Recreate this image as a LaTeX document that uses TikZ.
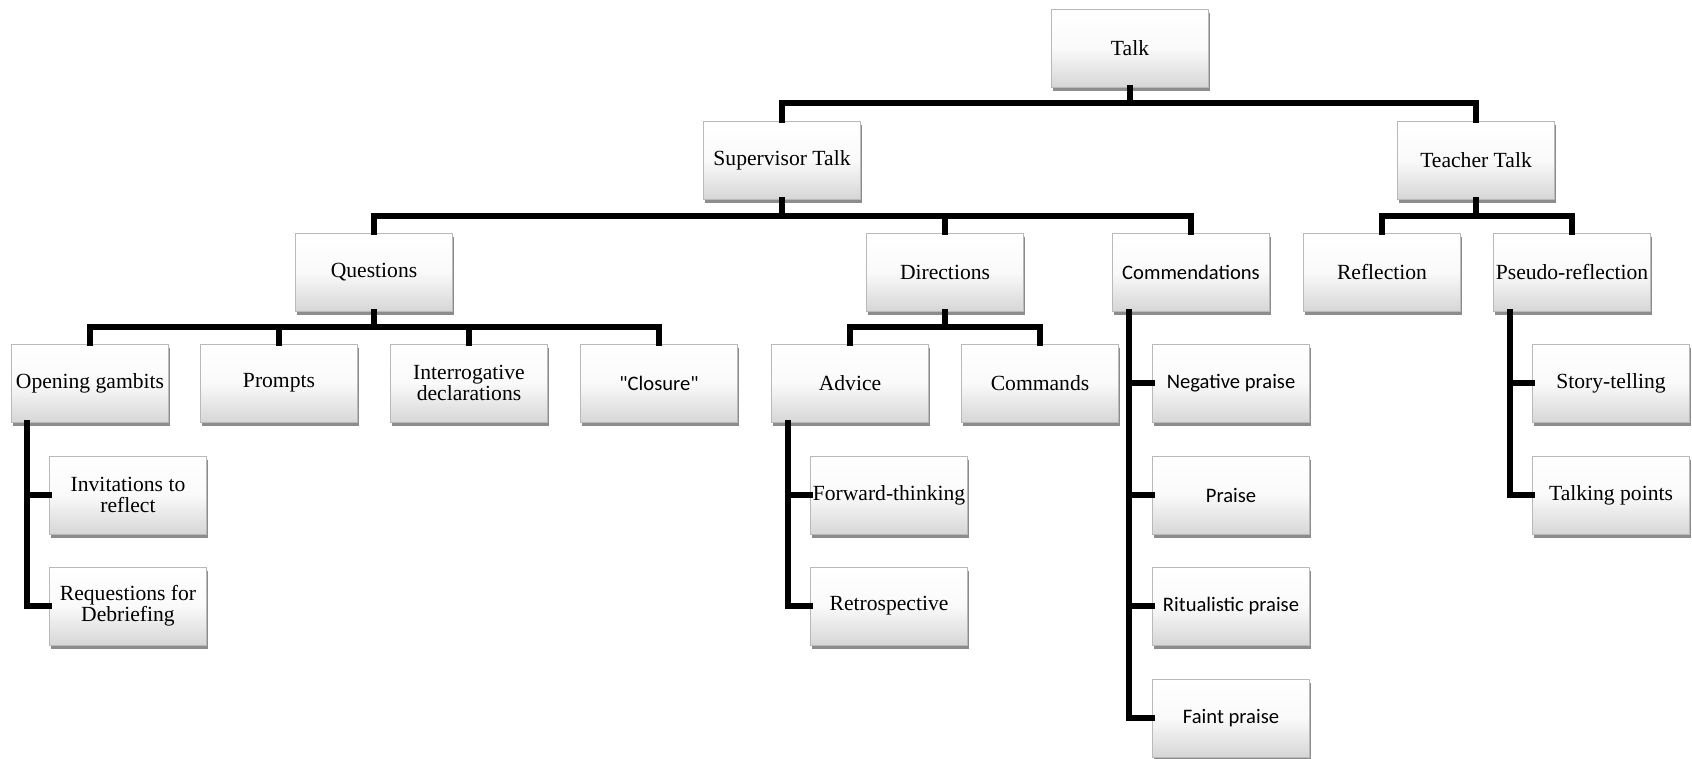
\documentclass[tikz,border=0pt]{standalone}
\usepackage{fontspec}
\setmainfont{Liberation Serif}
\newfontfamily\calibri{Carlito}
\usetikzlibrary{shadows}

\begin{document}
\begin{tikzpicture}[
  x=0.5pt, y=-0.5pt,
  font=\fontsize{10.8}{10.6}\selectfont,
  box/.style={rectangle, draw=gray!55, line width=0.4pt,
              top color=white, bottom color=gray!32, middle color=gray!4,
              minimum width=78.5pt, minimum height=39pt,
              inner sep=1pt, align=center,
              drop shadow={shadow xshift=0.9pt, shadow yshift=-1.8pt,
                           opacity=0.45, fill=black}},
  cbox/.style={box, font=\calibri\fontsize{10.3}{12}\selectfont},
  link/.style={line width=2.7pt, line cap=rect}
]
  \useasboundingbox (0,0) rectangle (1692,759);

  % bus heights
  \coordinate (bus1) at (0,103);
  \coordinate (bus2) at (0,216);
  \coordinate (bus3) at (0,327);

  % ===========================================================
  % LEVEL 1 AND 2
  % ===========================================================
  \node[box] (talk)    at (1130, 48) {Talk};
  \node[box] (sup)     at ( 782,160) {Supervisor Talk};
  \node[box] (teacher) at (1476,160) {Teacher Talk};

  % ===========================================================
  % LEVEL 3
  % ===========================================================
  \node[box]  (quest)  at ( 374,272) {Questions};
  \node[box]  (dir)    at ( 945,272) {Directions};
  \node[cbox] (comm)   at (1191,272) {Commendations};
  \node[box]  (refl)   at (1382,272) {Reflection};
  \node[box]  (pseudo) at (1572,272) {Pseudo-reflection};

  % ===========================================================
  % LEVEL 4
  % ===========================================================
  \node[box]  (open)     at (  90,383) {Opening gambits};
  \node[box]  (prompts)  at ( 279,383) {Prompts};
  \node[box]  (interrog) at ( 469,383) {Interrogative\\declarations};
  \node[cbox] (closure)  at ( 659,383) {"Closure"};
  \node[box]  (advice)   at ( 850,383) {Advice};
  \node[box]  (commands) at (1040,383) {Commands};
  \node[cbox] (negative) at (1231,383) {Negative praise};
  \node[box]  (story)    at (1611,383) {Story-telling};

  % ===========================================================
  % LEVEL 5 AND BELOW (side lists)
  % ===========================================================
  \node[box]  (invite)  at ( 128,495) {Invitations to\\reflect};
  \node[box]  (debrief) at ( 128,606) {Requestions for\\Debriefing};
  \node[box]  (forward) at ( 889,495) {Forward-thinking};
  \node[box]  (retro)   at ( 889,606) {Retrospective};
  \node[cbox] (praise)  at (1231,495) {Praise};
  \node[cbox] (ritual)  at (1231,606) {Ritualistic praise};
  \node[cbox] (faint)   at (1231,718) {Faint praise};
  \node[box]  (points)  at (1611,495) {Talking points};

  % ===========================================================
  % CONNECTORS
  % ===========================================================
  \draw[link] (talk.south) -- (talk.south |- bus1) -| (sup.north);
  \draw[link] (talk.south |- bus1) -| (teacher.north);

  \draw[link] (sup.south) -- (sup.south |- bus2) -| (quest.north);
  \draw[link] (sup.south |- bus2) -| (dir.north);
  \draw[link] (sup.south |- bus2) -| (comm.north);

  \draw[link] (teacher.south) -- (teacher.south |- bus2) -| (refl.north);
  \draw[link] (teacher.south |- bus2) -| (pseudo.north);

  \draw[link] (quest.south) -- (quest.south |- bus3) -| (open.north);
  \draw[link] (quest.south |- bus3) -| (prompts.north);
  \draw[link] (quest.south |- bus3) -| (interrog.north);
  \draw[link] (quest.south |- bus3) -| (closure.north);

  \draw[link] (dir.south) -- (dir.south |- bus3) -| (advice.north);
  \draw[link] (dir.south |- bus3) -| (commands.north);

  % side lists hang from a line near the parent's left edge
  \draw[link] ([xshift=8pt]open.south west) |- (invite.west);
  \draw[link] ([xshift=8pt]open.south west) |- (debrief.west);

  \draw[link] ([xshift=8.5pt]advice.south west) |- (forward.west);
  \draw[link] ([xshift=8.5pt]advice.south west) |- (retro.west);

  \draw[link] ([xshift=8.5pt]comm.south west) |- (negative.west);
  \draw[link] ([xshift=8.5pt]comm.south west) |- (praise.west);
  \draw[link] ([xshift=8.5pt]comm.south west) |- (ritual.west);
  \draw[link] ([xshift=8.5pt]comm.south west) |- (faint.west);

  \draw[link] ([xshift=8.5pt]pseudo.south west) |- (story.west);
  \draw[link] ([xshift=8.5pt]pseudo.south west) |- (points.west);

\end{tikzpicture}
\end{document}
